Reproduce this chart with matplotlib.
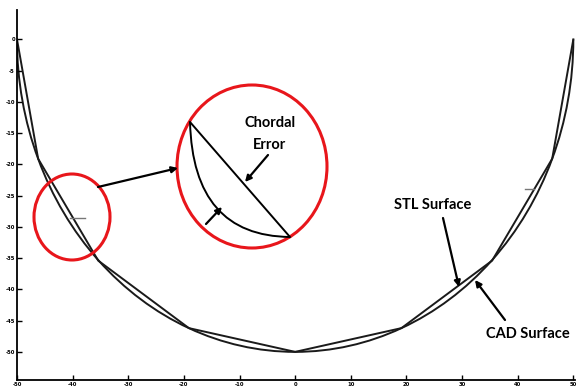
#!/usr/bin/env python3

import matplotlib.pyplot as plt
from matplotlib.patches import Arc, Ellipse, FancyArrowPatch, PathPatch
from matplotlib.path import Path

# STL surface: facet vertices
stl_x = [-50, -46.2, -35.4, -19.1, 0, 19.1, 35.4, 46.2, 50]
stl_y = [0, -19.1, -35.4, -46.2, -50, -46.2, -35.4, -19.1, 0]

# CAD surface: circular arc (centre, radius)
cad_center = (0, 0)
cad_radius = 50

# small stray marks on the plot
mark_x = [[-40.5, -37.8], [41.4, 42.9]]
mark_y = [[-28.6, -28.6], [-23.9, -23.9]]

xticks = [-50, -40, -30, -20, -10, 0, 10, 20, 30, 40, 50]
yticks = [0, -5, -10, -15, -20, -25, -30, -35, -40, -45, -50]

W, H = 576, 392


def fxy(px, py):
    # pixel position -> figure fraction
    return px / W, 1 - py / H


fig = plt.figure(figsize=(W / 100, H / 100), dpi=100)
ax = fig.add_axes([17 / W, 1 - 380 / H, 558 / W, 370 / H])

ax.plot(stl_x, stl_y, color="#1a1a1a", lw=1.4)
ax.add_patch(Arc(cad_center, 2 * cad_radius, 2 * cad_radius, theta1=180, theta2=360,
                 color="#1a1a1a", lw=1.4))
for mx, my in zip(mark_x, mark_y):
    ax.plot(mx, my, color="#777777", lw=1)

ax.set_xlim(-50, 50.3)
ax.set_ylim(-54.5, 4.7)
ax.set_xticks(xticks)
ax.set_yticks(yticks)
ax.set_xticklabels([str(t) for t in xticks], fontsize=3.8, fontweight="bold")
ax.set_yticklabels([str(t) for t in yticks], fontsize=3.8, fontweight="bold")
ax.tick_params(direction="in", length=3.5, width=1, pad=1.5)
for s in ["top", "right"]:
    ax.spines[s].set_visible(False)
for s in ["left", "bottom"]:
    ax.spines[s].set_linewidth(1.3)

# red zoom circles
red = "#e8161b"
for cx, cy, w, h in [(72, 217, 76, 86), (252, 166.5, 150, 163)]:
    x0, y0 = fxy(cx, cy)
    fig.add_artist(Ellipse((x0, y0), w / W, h / H, transform=fig.transFigure,
                           fill=False, edgecolor=red, lw=2.2))

# inside the magnified circle: chord and curved surface
fig.add_artist(plt.Line2D(*zip(fxy(190, 122), fxy(290, 237)),
                          transform=fig.transFigure, color="black", lw=1.4))
verts = [fxy(190, 122), fxy(193, 236), fxy(290, 237)]
fig.add_artist(PathPatch(Path(verts, [Path.MOVETO, Path.CURVE3, Path.CURVE3]),
                         transform=fig.transFigure, fill=False,
                         edgecolor="black", lw=1.4))


def arrow(p0, p1):
    fig.add_artist(FancyArrowPatch(fxy(*p0), fxy(*p1), transform=fig.transFigure,
                                   arrowstyle="-|>", mutation_scale=9,
                                   color="black", lw=1.6, shrinkA=0, shrinkB=0))


arrow((98, 187), (178, 168))
arrow((268, 155), (245, 182))
arrow((206, 224), (222, 207))
arrow((443, 218), (459, 287))
arrow((505, 320), (475, 280))

font = dict(family="Lato", fontweight="bold", fontsize=10.5, ha="center",
            va="center", transform=fig.transFigure)
fig.text(*fxy(270, 123), "Chordal", **font)
fig.text(*fxy(269, 145), "Error", **font)
fig.text(*fxy(433, 205), "STL Surface", **font)
fig.text(*fxy(528, 334), "CAD Surface", **font)

plt.savefig("out.png", dpi=100)
plt.close()
